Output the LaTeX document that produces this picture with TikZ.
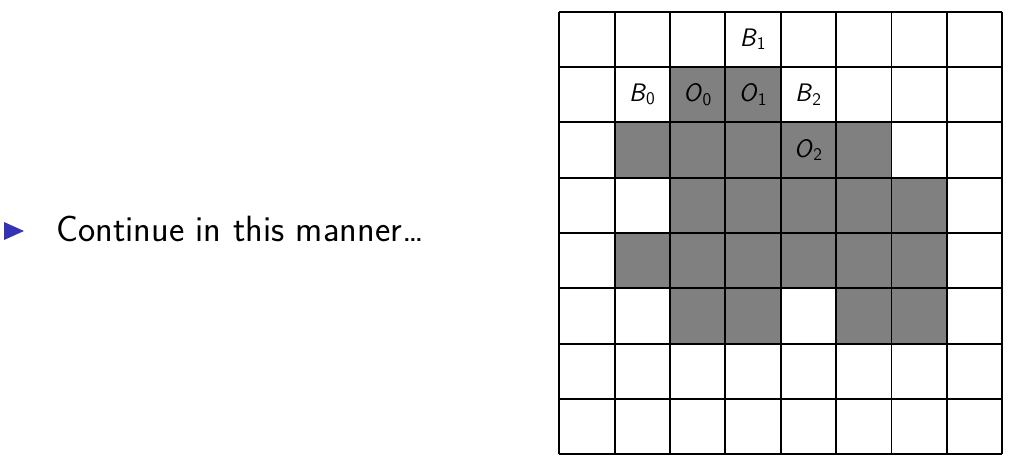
\documentclass[tikz,border=0pt]{standalone}
\usepackage{tikz}
\usepackage{xcolor}
\newcommand{\gridvar}[2]{\textit{#1}\textsubscript{#2}}
\definecolor{bmblue}{RGB}{51,51,179}
\definecolor{bmgray}{RGB}{128,128,128}
\tikzset{
  gridline/.style={draw=black, line width=1.4pt},
  cellfill/.style={fill=bmgray},
  celltext/.style={font=\sffamily\fontsize{18}{21}\selectfont, inner sep=0pt},
  itemtext/.style={font=\sffamily\fontsize{26}{31}\selectfont, inner sep=0pt, anchor=base west},
  itembullet/.style={fill=bmblue}
}
\begin{document}
\begin{tikzpicture}
  \useasboundingbox (0,0) rectangle (25.35,-11.725);
  % bullet and item
  \fill[itembullet] (0.1,-5.55) -- (0.6,-5.775) -- (0.1,-6.0) -- cycle;
  \node[itemtext] (item) at (1.4,-6.04) {Continue in this manner\dots};
  % the grid
  \begin{scope}[shift={(13.983,-0.288)}, x=1.384cm, y=-1.384cm]
    \foreach \c/\r in {2/1,3/1,1/2,2/2,3/2,4/2,5/2,2/3,3/3,4/3,5/3,6/3,
                       1/4,2/4,3/4,4/4,5/4,6/4,2/5,3/5,5/5,6/5}
      \fill[cellfill] (\c,\r) rectangle ++(1,1);
    \foreach \k in {0,...,8} {
      \draw[gridline] (\k,0) -- (\k,8);
      \draw[gridline] (0,\k) -- (8,\k);
    }
    \node[celltext] (b1) at (3.5,0.5) {\gridvar{B}{1}};
    \node[celltext] (b0) at (1.5,1.5) {\gridvar{B}{0}};
    \node[celltext] (o0) at (2.5,1.5) {\gridvar{O}{0}};
    \node[celltext] (o1) at (3.5,1.5) {\gridvar{O}{1}};
    \node[celltext] (b2) at (4.5,1.5) {\gridvar{B}{2}};
    \node[celltext] (o2) at (4.5,2.5) {\gridvar{O}{2}};
  \end{scope}
\end{tikzpicture}
\end{document}
